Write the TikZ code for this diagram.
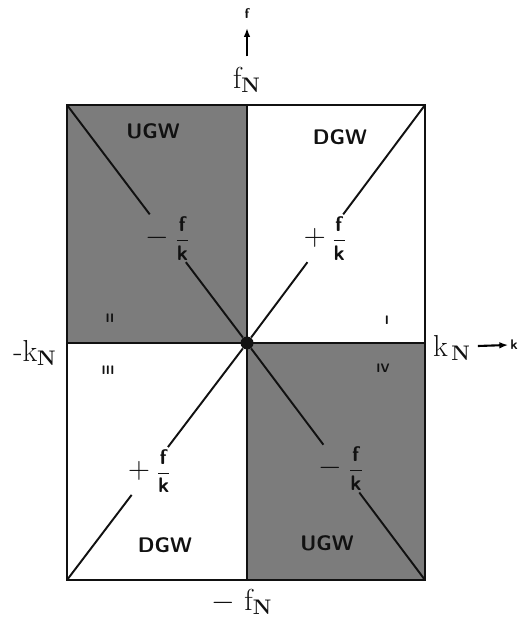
\documentclass[tikz,border=0pt]{standalone}
\usepackage{amsmath}
\usetikzlibrary{arrows.meta,calc}
\definecolor{screen}{HTML}{7C7C7C}
\definecolor{ink}{HTML}{111111}
\newcommand{\fk}{\dfrac{\textsf{\textbf{f}}}{\textsf{\textbf{k}}}}

\begin{document}
\begin{tikzpicture}[x=0.02cm,y=-0.02cm,every node/.style={inner sep=1pt,text=ink},
  wave/.style={font=\sffamily\bfseries\large},
  quad/.style={font=\sffamily\bfseries\scriptsize},
  limit/.style={font=\LARGE},
  slope/.style={inner sep=1pt,font=\large},
  axis/.style={font=\sffamily\bfseries\footnotesize},
  frame/.style={ink,line width=1.4pt},
  diag/.style={ink,line width=1.1pt}]
  \useasboundingbox (0,0) rectangle (523,617);
  % box corners and midpoints
  \coordinate (tl) at (67,105);
  \coordinate (tr) at (425,105);
  \coordinate (bl) at (67,580);
  \coordinate (br) at (425,580);
  \coordinate (mt) at (247,105);
  \coordinate (mb) at (247,580);
  \coordinate (ml) at (67,343);
  \coordinate (mr) at (425,343);
  \fill[screen] (tl) rectangle (247,343);
  \fill[screen] (247,343) rectangle (br);
  \draw[frame] (tl) rectangle (br);
  \draw[frame] (ml) -- (mr);
  \draw[frame] (mt) -- (mb);
  \node[circle,fill=ink,inner sep=0pt,minimum size=0.26cm] (o) at (247,343) {};
  % slope labels on the diagonals
  \node[slope] (nw) at ($(o)!0.44!(tl)$) {{\LARGE$-$}$\;\fk$};
  \node[slope] (ne) at ($(o)!0.44!(tr)$) {{\LARGE$+$}$\;\fk$};
  \node[slope] (sw) at ($(o)!0.54!(bl)$) {{\LARGE$+$}$\;\fk$};
  \node[slope] (se) at ($(o)!0.53!(br)$) {{\LARGE$-$}$\;\fk$};
  \draw[diag] (tl) -- (nw) -- (o) -- (se) -- (br);
  \draw[diag] (bl) -- (sw) -- (o) -- (ne) -- (tr);
  % wave types
  \node[wave] (ugw1) at (153,131) {UGW};
  \node[wave] (dgw1) at (340,137) {DGW};
  \node[wave] (dgw2) at (165,545) {DGW};
  \node[wave] (ugw2) at (327,543) {UGW};
  % quadrant numbers
  \node[quad] (q1) at (387,320) {I};
  \node[quad] (q2) at (110,318) {II};
  \node[quad] (q3) at (108,370) {III};
  \node[quad] (q4) at (383,368) {IV};
  % limits and axes
  \node[limit] (fN) at (247,80) {$\mathrm{f}_{\mathbf{N}}$};
  \node[axis] (fax) at (247,14) {f};
  \node[limit] (mfN) at (242,602) {$-\ \mathrm{f}_{\mathbf{N}}$};
  \node[limit] (mkN) at (35,353) {$\text{-}\mathrm{k}_{\mathbf{N}}$};
  \node[limit] (kN) at (452,348) {$\mathrm{k}_{\,\mathbf{N}}$};
  \node[axis] (kax) at (514,345) {k};
  \draw[-{Latex[length=5pt]},line width=1.2pt,shorten <=5pt,shorten >=4pt] (fN) -- (fax);
  \draw[-{Latex[length=5pt]},line width=1.2pt] (kN.east) ++(5,-2) coordinate (kb) (kb) -- (kax.west);
\end{tikzpicture}
\end{document}
